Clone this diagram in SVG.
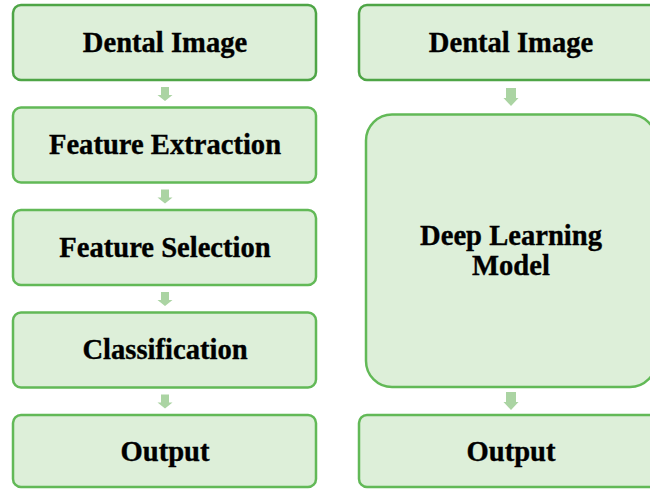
<svg xmlns="http://www.w3.org/2000/svg" width="650" height="489" viewBox="0 0 650 489">
<style>
.box{fill:#ddefd9;stroke:#62b957;stroke-width:2.5}
.dark{stroke:#4ea546}
.lbl{font-family:"Liberation Serif","Times New Roman",serif;font-weight:bold;font-size:28.6px;fill:#000;stroke:#000;stroke-width:0.35;text-anchor:middle}
.arr{fill:#abd4a3}
</style>
<defs>
<path id="a" d="M-4,0 H4 V8 H7.5 L0,14 L-7.5,8 H-4 Z"/>
<path id="b" d="M-5,0 H5 V10 H7.5 L0,18 L-7.5,10 H-5 Z"/>
</defs>
<g id="connectors">
<use href="#a" class="arr" x="165" y="87"/>
<use href="#a" class="arr" x="165" y="189.5"/>
<use href="#a" class="arr" x="165" y="292"/>
<use href="#a" class="arr" x="165" y="394.5"/>
<use href="#b" class="arr" x="511" y="88"/>
<use href="#b" class="arr" x="511" y="392"/>
</g>
<g id="l-dental">
<rect class="box dark" x="13" y="5" width="303" height="75" rx="8"/>
<text class="lbl" x="165" y="52">Dental Image</text>
</g>
<g id="l-extraction">
<rect class="box" x="13" y="107.5" width="303" height="75" rx="8"/>
<text class="lbl" x="165" y="154">Feature Extraction</text>
</g>
<g id="l-selection">
<rect class="box" x="13" y="210" width="303" height="75" rx="8"/>
<text class="lbl" x="165" y="256.5">Feature Selection</text>
</g>
<g id="l-classification">
<rect class="box" x="13" y="312.5" width="303" height="75" rx="8"/>
<text class="lbl" x="165" y="359">Classification</text>
</g>
<g id="l-output">
<rect class="box" x="13" y="415" width="303" height="72" rx="8"/>
<text class="lbl" x="165" y="461">Output</text>
</g>
<g id="r-dental">
<rect class="box dark" x="359" y="5" width="304" height="75" rx="8"/>
<text class="lbl" x="511" y="52">Dental Image</text>
</g>
<g id="r-deep">
<rect class="box" x="366" y="114.5" width="290" height="272.5" rx="26"/>
<text class="lbl" x="511" y="245">Deep Learning</text>
<text class="lbl" x="511" y="275">Model</text>
</g>
<g id="r-output">
<rect class="box" x="359" y="415" width="304" height="72" rx="8"/>
<text class="lbl" x="511" y="461">Output</text>
</g>
</svg>
